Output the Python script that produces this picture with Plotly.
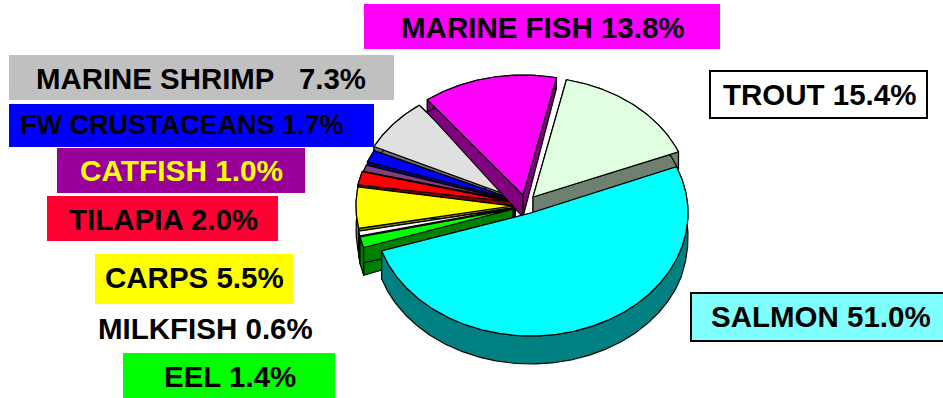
import numpy as np
import plotly.graph_objects as go

# ---- data ----
categories = ["SALMON", "EEL", "MILKFISH", "CARPS", "TILAPIA", "CATFISH",
              "FW CRUSTACEANS", "MARINE SHRIMP", "MARINE FISH", "TROUT"]
shares = [51.0, 1.4, 0.6, 5.5, 2.0, 1.0, 1.7, 7.3, 13.8, 15.4]

# ---- styles ----
top_colors = ["#00FFFF", "#00FF00", "#FFFFFF", "#FFFF00", "#FF0000", "#804080",
              "#0000FF", "#E0E0E0", "#FF00FF", "#E0FFE0"]
wall_colors = ["#008080", "#008000", "#808080", "#808000", "#800000", "#402040",
               "#000080", "#707070", "#800080", "#708070"]
apex_x = [531, 513, 513, 513, 513, 514, 515, 515, 523, 533]
apex_y = [213, 209, 208, 206, 202, 201, 200, 198, 195, 197]
radius_y = [123, 125, 125, 120, 108, 105, 112, 117, 120, 120]
paint_order = [7, 6, 5, 4, 3, 2, 1, 8, 9, 0]
RX = 157
START_DEG = -22.1


def wall_depth(y):
    return np.interp(y, [85, 195, 250], [11, 22, 28])


fig = go.Figure()
total = sum(shares)
edges = START_DEG + np.concatenate([[0], np.cumsum(shares)]) / total * 360


def poly(xs, ys, fill):
    fig.add_trace(go.Scatter(x=xs, y=ys, mode="lines", fill="toself", fillcolor=fill,
                             line=dict(color="#000000", width=1.2), hoverinfo="skip",
                             showlegend=False))


for i in paint_order:
    ts = np.radians(np.linspace(edges[i], edges[i + 1], max(6, int(shares[i] * 6))))
    rx = apex_x[i] + RX * np.cos(ts)
    ry = apex_y[i] + radius_y[i] * np.sin(ts)
    ax, ay = apex_x[i], apex_y[i]
    # radial faces
    for ex, ey in [(rx[0], ry[0]), (rx[-1], ry[-1])]:
        poly([ax, ex, ex, ax, ax],
             [ay, ey, ey + wall_depth(ey), ay + wall_depth(ay), ay], wall_colors[i])
    # outer rim
    poly(np.concatenate([rx, rx[::-1], rx[:1]]),
         np.concatenate([ry, (ry + wall_depth(ry))[::-1], ry[:1]]), wall_colors[i])
    # top face
    poly(np.concatenate([[ax], rx, [ax]]), np.concatenate([[ay], ry, [ay]]), top_colors[i])

# ---- labels ----
NB = "\u00a0"
labels = [
    ("MARINE FISH 13.8%", 542.5, 27, 29.5, "#000000", "#FF00FF", None, (364, 720, 4, 49)),
    (f"MARINE SHRIMP{NB*3}7.3%", 201, 78, 29.4, "#000000", "#C0C0C0", None, (9, 394, 55, 100)),
    ("FW CRUSTACEANS 1.7%", 181.5, 125, 27, "#000000", "#0000FF", None, (9, 374, 104, 147)),
    ("CATFISH 1.0%", 181, 170, 29.8, "#FFFF00", "#990099", None, (57, 305, 148, 193)),
    ("TILAPIA 2.0%", 163, 219, 29.5, "#000000", "#FF0033", None, (47, 278, 196, 241)),
    ("CARPS 5.5%", 194.5, 277, 29.5, "#000000", "#FFFF00", None, (95, 293, 254, 304)),
    ("MILKFISH 0.6%", 205, 328, 29.5, "#000000", None, None, None),
    ("EEL 1.4%", 229.5, 376, 29.5, "#000000", "#00FF00", None, (123, 335, 353, 398)),
    ("TROUT 15.4%", 819, 94, 29.5, "#000000", "#FFFFFF", "#000000", (710, 927, 71, 118)),
    ("SALMON 51.0%", 821, 316, 29.5, "#000000", "#80FFFF", "#000000", (691, 946, 293, 341)),
]
for text, tx, ty, size, color, bg, border, box in labels:
    if box:
        fig.add_shape(type="rect", xref="x", yref="y", x0=box[0], x1=box[1], y0=box[2], y1=box[3],
                      fillcolor=bg, line=dict(color=border or bg, width=2 if border else 0),
                      layer="below")
    fig.add_annotation(x=tx, y=ty, xref="x", yref="y", text=f"<b>{text}</b>", showarrow=False,
                       xanchor="center", yanchor="middle",
                       font=dict(family="Liberation Sans", size=size, color=color))

fig.update_layout(
    width=943, height=398, margin=dict(l=0, r=0, t=0, b=0), paper_bgcolor="#FFFFFF",
    plot_bgcolor="#FFFFFF", showlegend=False,
    xaxis=dict(range=[0, 943], visible=False, fixedrange=True),
    yaxis=dict(range=[398, 0], visible=False, fixedrange=True),
)
fig.write_html("out.html", config={"displayModeBar": False},
               post_script="document.body.style.margin='0';document.body.style.overflow='hidden';")
